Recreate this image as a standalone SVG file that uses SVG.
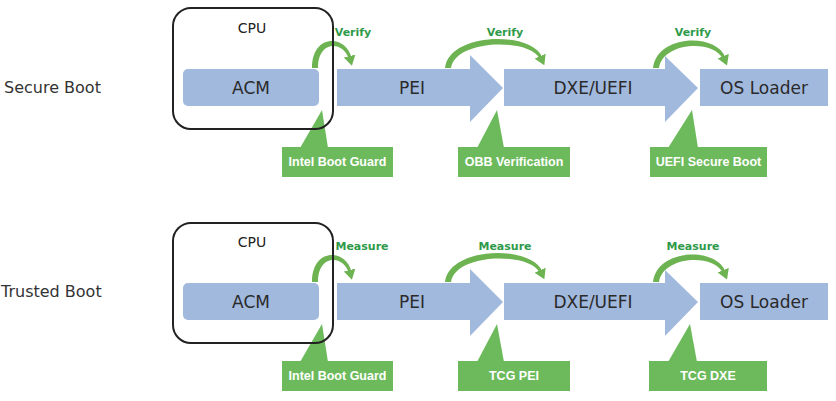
<svg xmlns="http://www.w3.org/2000/svg" width="836" height="401" viewBox="0 0 836 401">
<style>
.lbl{font-family:"DejaVu Sans",Verdana,sans-serif;font-size:16px;fill:#333}
.cpu{fill:none;stroke:#222;stroke-width:2}
.cput{font-family:"DejaVu Sans",Verdana,sans-serif;font-size:14px;fill:#222;text-anchor:middle}
.blk{fill:#a2b9de}
.bt{font-family:"DejaVu Sans",Verdana,sans-serif;font-size:17px;fill:#2a2a2a;text-anchor:middle}
.call{fill:#6dba5c}
.ct{font-family:"Liberation Sans",Arial,sans-serif;font-size:12.5px;font-weight:bold;fill:#fff;text-anchor:middle}
.arc{fill:#6db352;stroke:none}
.arcm{fill:none;stroke:none}
.at{font-family:"DejaVu Sans",Verdana,sans-serif;font-size:11px;font-weight:bold;fill:#2f9a4a;text-anchor:middle}
</style>
<defs>
<marker id="ah" viewBox="0 0 10 12" refX="2" refY="6" markerWidth="10" markerHeight="12" markerUnits="userSpaceOnUse" orient="auto">
<path d="M0,0 L10,6 L0,12 z" fill="#6db352"/>
</marker>
</defs>
<text class="lbl" x="4" y="93">Secure Boot</text>
<text class="lbl" x="1" y="297">Trusted Boot</text>

<!-- Secure Boot row -->
<g id="acm1"><rect class="blk" x="183" y="69" width="136" height="37" rx="5"/><text class="bt" x="251" y="94">ACM</text></g>
<g id="pei1"><polygon class="blk" points="337,69 470,69 470,55 503,88 470,122 470,106 337,106"/><text class="bt" x="412" y="94">PEI</text></g>
<g id="dxe1"><polygon class="blk" points="504,69 665,69 665,56 698,88 665,122 665,106 504,106"/><text class="bt" x="593" y="94">DXE/UEFI</text></g>
<g id="os1"><rect class="blk" x="700" y="69" width="128" height="37"/><text class="bt" x="764" y="94">OS Loader</text></g>
<g id="ibg1"><polygon class="call" points="300,148 322,110 328,148"/><rect class="call" x="282" y="147" width="111" height="30"/><text class="ct" x="337.5" y="166">Intel Boot Guard</text></g>
<g id="obb1"><polygon class="call" points="477,148 497,110 504,148"/><rect class="call" x="458" y="147" width="112" height="30"/><text class="ct" x="514" y="166">OBB Verification</text></g>
<g id="usb1"><polygon class="call" points="668,148 692,110 698,148"/><rect class="call" x="650" y="147" width="117" height="30"/><text class="ct" x="708.5" y="166">UEFI Secure Boot</text></g>

<!-- Trusted Boot row -->
<g id="acm2"><rect class="blk" x="183" y="283" width="136" height="37" rx="5"/><text class="bt" x="251" y="308">ACM</text></g>
<g id="pei2"><polygon class="blk" points="337,283 470,283 470,269 503,302 470,336 470,320 337,320"/><text class="bt" x="412" y="308">PEI</text></g>
<g id="dxe2"><polygon class="blk" points="504,283 665,283 665,270 698,302 665,336 665,320 504,320"/><text class="bt" x="593" y="308">DXE/UEFI</text></g>
<g id="os2"><rect class="blk" x="700" y="283" width="128" height="37"/><text class="bt" x="764" y="308">OS Loader</text></g>
<g id="ibg2"><polygon class="call" points="300,362 322,324 328,362"/><rect class="call" x="282" y="361" width="111" height="30"/><text class="ct" x="337.5" y="380">Intel Boot Guard</text></g>
<g id="tcgpei"><polygon class="call" points="477,362 497,324 504,362"/><rect class="call" x="458" y="361" width="112" height="30"/><text class="ct" x="514" y="380">TCG PEI</text></g>
<g id="tcgdxe"><polygon class="call" points="668,362 690,324 697,362"/><rect class="call" x="649" y="361" width="118" height="30"/><text class="ct" x="708" y="380">TCG DXE</text></g>

<g id="connectors">
<g id="verify">
<path class="arc" d="M312,68 C312,33 346,34.5 351.5,57.6 L348.5,58.4 C344,41.5 318,39 318,68 Z"/>
<path class="arcm" marker-end="url(#ah)" d="M315,68 C315,36 345,38 350,58"/>
<path class="arc" d="M445,68 C449,32.5 531,30.5 542.4,57.4 L539.6,58.6 C529,37.5 455,39.5 451,68 Z"/>
<path class="arcm" marker-end="url(#ah)" d="M448,68 C452,36 530,34 541,58"/>
<path class="arc" d="M653,68 C657,34.5 716,32.5 725.4,57.4 L722.6,58.6 C714,39.5 663,41.5 659,68 Z"/>
<path class="arcm" marker-end="url(#ah)" d="M656,68 C660,38 715,36 724,58"/>
<text class="at" x="353" y="36">Verify</text>
<text class="at" x="505" y="36">Verify</text>
<text class="at" x="693" y="36">Verify</text>
</g>
<g id="measure" transform="translate(0,214)">
<path class="arc" d="M312,68 C312,33 346,34.5 351.5,57.6 L348.5,58.4 C344,41.5 318,39 318,68 Z"/>
<path class="arcm" marker-end="url(#ah)" d="M315,68 C315,36 345,38 350,58"/>
<path class="arc" d="M445,68 C449,32.5 531,30.5 542.4,57.4 L539.6,58.6 C529,37.5 455,39.5 451,68 Z"/>
<path class="arcm" marker-end="url(#ah)" d="M448,68 C452,36 530,34 541,58"/>
<path class="arc" d="M653,68 C657,34.5 716,32.5 725.4,57.4 L722.6,58.6 C714,39.5 663,41.5 659,68 Z"/>
<path class="arcm" marker-end="url(#ah)" d="M656,68 C660,38 715,36 724,58"/>
<text class="at" x="362" y="36">Measure</text>
<text class="at" x="505" y="36">Measure</text>
<text class="at" x="693" y="36">Measure</text>
</g>
</g>

<g id="cpu1"><rect class="cpu" x="173" y="8" width="160" height="121" rx="18"/><text class="cput" x="252" y="33">CPU</text></g>
<g id="cpu2"><rect class="cpu" x="173" y="223" width="160" height="120" rx="18"/><text class="cput" x="252" y="247">CPU</text></g>
</svg>
